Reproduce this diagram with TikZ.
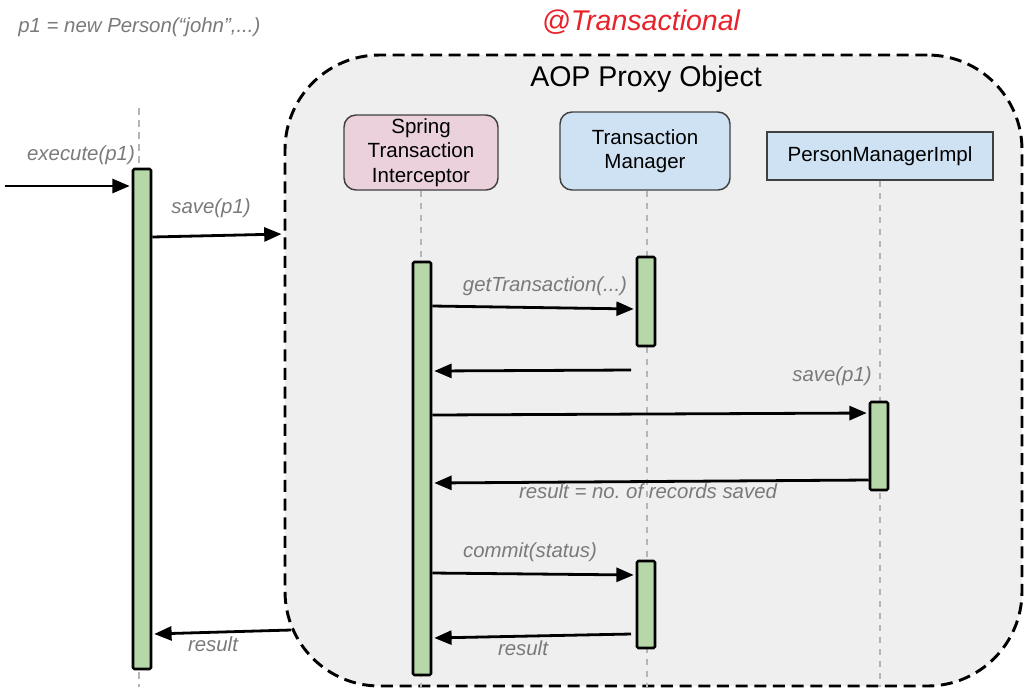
\documentclass[tikz,border=0pt]{standalone}
\usepackage{fontspec}
\setmainfont{Liberation Sans}
\usetikzlibrary{arrows.meta}
\definecolor{lblgray}{HTML}{7A7A7A}
\definecolor{lifegray}{HTML}{B5B5B5}
\definecolor{proxyfill}{HTML}{EFEFEF}
\definecolor{actgreen}{HTML}{B6D7A8}
\definecolor{pinkfill}{HTML}{EAD1DC}
\definecolor{bluefill}{HTML}{CFE2F3}
\definecolor{boxline}{HTML}{404040}
\definecolor{txred}{HTML}{E8222A}
\frenchspacing
\tikzset{
  lbl/.style={font=\fontsize{15.3}{17.6}\selectfont\itshape, text=lblgray, inner sep=0pt},
  title/.style={font=\fontsize{21.4}{24}\selectfont, inner sep=0pt},
  actbar/.style={draw=black, line width=1.9pt, fill=actgreen, minimum width=13.5pt, inner sep=0pt, rounded corners=1pt},
  msg/.style={line width=2.1pt, -{Triangle[length=13pt,width=10.5pt]}, shorten >=1.5pt},
  lifeline/.style={draw=lifegray, line width=0.9pt, dash pattern=on 5pt off 4pt},
  objbox/.style={draw=boxline, line width=1.1pt, align=center, inner sep=0pt,
     font=\fontsize{15.4}{18.4}\selectfont},
}
\begin{document}
\begin{tikzpicture}[x=0.75pt,y=-0.75pt]
\useasboundingbox (0,0) rectangle (1024,687);
% proxy
\node[draw=black, fill=proxyfill, line width=2.2pt, dash pattern=on 9pt off 5pt,
      rounded corners=71pt, minimum width=552.75pt, minimum height=473.25pt, inner sep=0pt]
      (proxy) at (653.5,370.5) {};
\node[title] (proxytitle) at (646,79) {AOP Proxy Object};
\node[title, font=\fontsize{21.4}{24}\selectfont\itshape, text=txred] (anno) at (641,22) {@Transactional};
\node[lbl, anchor=west] (p1) at (18,27) {p1 = new Person(“john”,...)};
% objects
\node[objbox, fill=pinkfill, rounded corners=9pt, minimum width=115.5pt, minimum height=56.25pt]
   (inter) at (421,152.5) {Spring\\Transaction\\Interceptor};
\node[objbox, fill=bluefill, rounded corners=9pt, minimum width=127.5pt, minimum height=58.5pt]
   (tm) at (645,151) {Transaction\\Manager};
\node[objbox, fill=bluefill, minimum width=169.5pt, minimum height=36pt]
   (pmi) at (880,156) {PersonManagerImpl};
% lifelines
\coordinate (ctop) at (139,108);
\coordinate (cbot) at (139,687);
\coordinate (ibot) at (421,687);
\coordinate (tbot) at (647,687);
\coordinate (pbot) at (880,687);
\draw[lifeline] (ctop) -- (cbot);
\draw[lifeline] (inter.south) -- (ibot);
\draw[lifeline] (tm.south -| tbot) -- (tbot);
\draw[lifeline] (pmi.south) -- (pbot);
% activation bars
\node[actbar, minimum height=375pt] (client) at (142,419) {};
\node[actbar, minimum height=309.75pt] (ib) at (422,468.5) {};
\node[actbar, minimum height=66.75pt] (tm1) at (646,301.5) {};
\node[actbar, minimum height=66pt] (pb) at (879,446) {};
\node[actbar, minimum height=65.25pt] (tm2) at (646,604.5) {};
% messages
\coordinate (in) at (5,186);
\coordinate (r1) at (631,370);
\coordinate (r0) at (291,630);
\coordinate (r2) at (631,634);
\draw[msg] (in) -- (client.west |- 0,186);
\draw[msg] (client.east |- 0,237) -- (proxy.west |- 0,234);
\draw[msg] (ib.east |- 0,306) -- (tm1.west |- 0,309);
\draw[msg] (r1) -- (ib.east |- 0,371);
\draw[msg] (ib.east |- 0,415) -- (pb.west |- 0,413);
\draw[msg] (pb.west |- 0,480) -- (ib.east |- 0,483);
\draw[msg] (ib.east |- 0,573) -- (tm2.west |- 0,575);
\draw[msg] (r2) -- (ib.east |- 0,638);
\draw[msg] (r0) -- (client.east |- 0,634);
% labels
\node[lbl] (l1) at (81,155) {execute(p1)};
\node[lbl] (l2) at (211,208) {save(p1)};
\node[lbl] (l3) at (545,286) {getTransaction(...)};
\node[lbl] (l4) at (832,376) {save(p1)};
\node[lbl] (l5) at (648,491) {result = no. of records saved};
\node[lbl] (l6) at (530,552) {commit(status)};
\node[lbl] (l7) at (523,648) {result};
\node[lbl] (l8) at (213,644) {result};
\end{tikzpicture}
\end{document}
